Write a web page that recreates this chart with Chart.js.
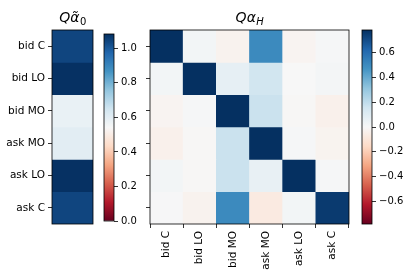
<!DOCTYPE html>
<html>
<head>
<meta charset="utf-8">
<script src="https://cdn.jsdelivr.net/npm/chart.js@4"></script>
<style>
  html, body { margin:0; padding:0; background:#fff; }
  #wrap { position:relative; width:415px; height:277px; overflow:hidden; }
  #wrap canvas { position:absolute; left:0; top:0; }
</style>
</head>
<body>
<div id="wrap">
  <canvas id="cA" width="415" height="277"></canvas>
  <canvas id="cB" width="415" height="277"></canvas>
  <canvas id="cC" width="415" height="277"></canvas>
  <canvas id="cD" width="415" height="277"></canvas>
</div>
<script>
// ---------------- data ----------------
const rowLabels = ['bid C', 'bid LO', 'bid MO', 'ask MO', 'ask LO', 'ask C'];
const colLabels = ['bid C', 'bid LO', 'bid MO', 'ask MO', 'ask LO', 'ask C'];

const alpha0 = [1.04, 1.08, 0.58, 0.60, 1.08, 1.04];

const hBidC  = [0.78, 0.02, -0.03, 0.50, -0.02, 0.01];
const hBidLO = [0.02, 0.78, 0.07, 0.15, 0.00, 0.015];
const hBidMO = [-0.02, 0.01, 0.78, 0.17, -0.005, -0.04];
const hAskMO = [-0.04, -0.005, 0.17, 0.78, 0.01, -0.025];
const hAskLO = [0.02, -0.005, 0.17, 0.06, 0.78, 0.01];
const hAskC  = [0.005, -0.03, 0.50, -0.07, 0.02, 0.75];
const alphaH = [hBidC, hBidLO, hBidMO, hAskMO, hAskLO, hAskC];

const range0 = [0, 1.083];
const rangeH = [-0.78, 0.78];
const cbarTicks0 = [0.0, 0.2, 0.4, 0.6, 0.8, 1.0];
const cbarTicksH = [-0.6, -0.4, -0.2, 0.0, 0.2, 0.4, 0.6];

// ---------------- colormap (RdBu) ----------------
const RdBu = ['#67001f','#b2182b','#d6604d','#f4a582','#fddbc7','#f7f7f7',
              '#d1e5f0','#92c5de','#4393c3','#2166ac','#053061'];
function hex2rgb(h){ return [parseInt(h.substr(1,2),16), parseInt(h.substr(3,2),16), parseInt(h.substr(5,2),16)]; }
const RdBuRGB = RdBu.map(hex2rgb);
function cmap(t){
  t = Math.max(0, Math.min(1, t));
  const x = t * (RdBuRGB.length - 1);
  const i = Math.min(Math.floor(x), RdBuRGB.length - 2);
  const f = x - i;
  const a = RdBuRGB[i], b = RdBuRGB[i+1];
  const c = a.map((v,k) => Math.round(v + (b[k]-v)*f));
  return `rgb(${c[0]},${c[1]},${c[2]})`;
}
function colorFor(v, range){ return cmap((v - range[0]) / (range[1] - range[0])); }

// ---------------- common ----------------
Chart.defaults.font.family = "'DejaVu Sans', sans-serif";
Chart.defaults.font.size = 10;
Chart.defaults.color = '#000';
Chart.defaults.animation = false;
const labelFont = { size: 10.5 };

const framePlugin = {
  id: 'frame',
  afterDraw(chart){
    const a = chart.chartArea, c = chart.ctx;
    c.save();
    c.strokeStyle = '#000';
    c.lineWidth = 0.8;
    c.strokeRect(a.left, a.top, a.right - a.left, a.bottom - a.top);
    c.restore();
  }
};
const mathTitle = {
  id: 'mtitle',
  afterDraw(chart, args, opts){
    if (!opts || !opts.main) return;
    const a = chart.chartArea, c = chart.ctx;
    c.save();
    c.fillStyle = '#000';
    c.textBaseline = 'alphabetic';
    const mainFont = "italic 14px 'DejaVu Sans'";
    const subFont = (opts.subItalic ? 'italic ' : '') + "10px 'DejaVu Sans'";
    c.font = mainFont; const w1 = c.measureText(opts.main).width;
    c.font = subFont; const w2 = c.measureText(opts.sub).width;
    const x0 = (a.left + a.right) / 2 - (w1 + w2) / 2;
    const y = 22;
    c.font = mainFont; c.fillText(opts.main, x0, y);
    c.font = subFont; c.fillText(opts.sub, x0 + w1 + 0.5, y + 3);
    c.restore();
  }
};

function tickGrid(){
  return { drawOnChartArea:false, drawTicks:true, tickLength:4, tickColor:'#000', tickWidth:0.8 };
}

// ---------------- A: left column heatmap ----------------
new Chart(document.getElementById('cA'), {
  type: 'bar',
  data: {
    labels: [''],
    datasets: rowLabels.map((r, i) => ({
      label: r,
      data: [1],
      backgroundColor: [colorFor(alpha0[i], range0)],
      borderWidth: 0,
      barPercentage: 1, categoryPercentage: 1
    }))
  },
  options: {
    responsive: false,
    layout: { padding: { left: 0, right: 322, top: 30, bottom: 53 } },
    plugins: { legend: { display:false }, tooltip: { enabled:false },
               mtitle: { main: 'Q\u03B1\u0303', sub: '0', subItalic: false } },
    scales: {
      x: { display: false, stacked: true },
      y: {
        type: 'linear', stacked: true, min: 0, max: rowLabels.length, reverse: true,
        border: { display: false },
        grid: tickGrid(),
        afterBuildTicks: s => { s.ticks = rowLabels.map((_, i) => ({ value: i + 0.5 })); },
        afterFit: s => { s.width = 52; },
        ticks: { padding: 3, font: labelFont, callback: (v, idx) => rowLabels[idx] }
      }
    }
  },
  plugins: [framePlugin, mathTitle]
});

// ---------------- colorbars ----------------
function cbar(id, range, ticks, pad){
  new Chart(document.getElementById(id), {
    type: 'bar',
    data: {
      labels: [''],
      datasets: [{
        data: [[range[0], range[1]]],
        borderWidth: 0,
        barPercentage: 1, categoryPercentage: 1,
        backgroundColor: ctx => {
          const ch = ctx.chart, ys = ch.scales.y;
          if (!ch.chartArea || !ys) return '#888';
          const y0 = ys.getPixelForValue(range[0]), y1 = ys.getPixelForValue(range[1]);
          const g = ch.ctx.createLinearGradient(0, y0, 0, y1);
          for (let k = 0; k <= 40; k++) g.addColorStop(k / 40, cmap(k / 40));
          return g;
        }
      }]
    },
    options: {
      responsive: false,
      layout: { padding: pad },
      plugins: { legend: { display:false }, tooltip: { enabled:false } },
      scales: {
        x: { display: false },
        y: {
          type: 'linear', position: 'right', min: range[0], max: range[1],
          border: { display: false },
          grid: tickGrid(),
          afterBuildTicks: s => { s.ticks = ticks.map(v => ({ value: v })); },
          afterFit: s => { s.width = 40; },
          ticks: { padding: 3,
            callback: v => (v < -1e-9 ? '\u2212' : '') + Math.abs(v).toFixed(1) }
        }
      }
    },
    plugins: [framePlugin]
  });
}
cbar('cB', range0, cbarTicks0, { left: 104, right: 415 - 114 - 40, top: 34, bottom: 56 });

// ---------------- C: main matrix ----------------
new Chart(document.getElementById('cC'), {
  type: 'bar',
  data: {
    labels: colLabels,
    datasets: rowLabels.map((r, i) => ({
      label: r,
      data: colLabels.map(() => 1),
      backgroundColor: alphaH[i].map(v => colorFor(v, rangeH)),
      borderWidth: 0,
      barPercentage: 1, categoryPercentage: 1
    }))
  },
  options: {
    responsive: false,
    layout: { padding: { left: 140, right: 66, top: 30, bottom: 3 } },
    plugins: { legend: { display:false }, tooltip: { enabled:false },
               mtitle: { main: 'Q\u03B1', sub: 'H', subItalic: true } },
    scales: {
      x: {
        stacked: true,
        border: { display: false },
        grid: tickGrid(),
        afterFit: s => { s.height = 50; },
        ticks: { padding: 3, font: labelFont, minRotation: 90, maxRotation: 90, autoSkip: false }
      },
      y: {
        type: 'linear', stacked: true, min: 0, max: rowLabels.length, reverse: true,
        border: { display: false },
        grid: tickGrid(),
        afterBuildTicks: s => { s.ticks = rowLabels.map((_, i) => ({ value: i + 0.5 })); },
        afterFit: s => { s.width = 10; },
        ticks: { padding: 0, callback: () => '' }
      }
    }
  },
  plugins: [framePlugin, mathTitle]
});

cbar('cD', rangeH, cbarTicksH, { left: 362, right: 415 - 372 - 40, top: 30, bottom: 53 });
</script>
</body>
</html>
